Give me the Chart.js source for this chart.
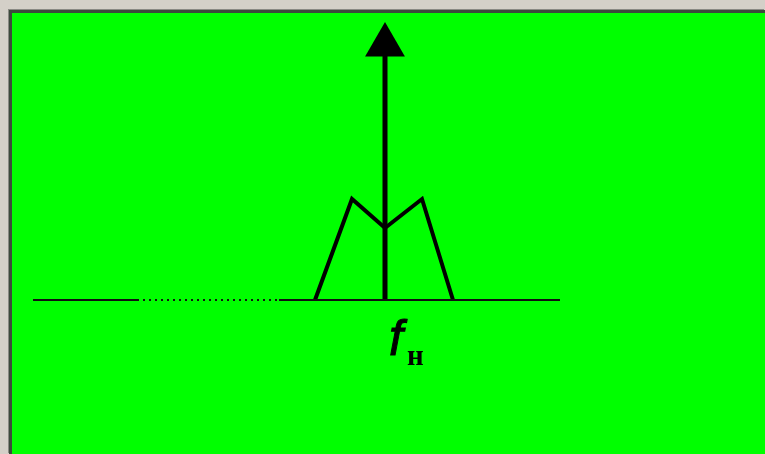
<!DOCTYPE html>
<html>
<head>
<meta charset="utf-8">
<script src="https://cdn.jsdelivr.net/npm/chart.js@4"></script>
<style>
  html, body { margin: 0; padding: 0; width: 765px; height: 454px; overflow: hidden; background: #d4d0c8; }
  #panel {
    position: absolute; left: 9px; top: 10px; right: 0; bottom: 0;
    background: #00ff00;
    border-left: 3px solid #3c4a3c; border-top: 3px solid #3c4a3c;
    box-shadow: -1px -1px 0 #8a8a84;
  }
  #spectrum { position: absolute; left: 0; top: 0; }
</style>
</head>
<body>
<div id="panel"></div>
<canvas id="spectrum" width="765" height="454"></canvas>
<script>
// frequency axis pieces (relative to carrier fн = 0)
const axisSolidLeft = [-352, -248];
const axisDotted = [-248, -108];
const axisSolidRight = [-106, 175];
// sidebands around the carrier
const sidebandX = [-70, -33, 0, 37, 68];
const sidebandY = [0, 101, 72, 101, 0];
// carrier line and arrow head
const carrierX = [0, 0];
const carrierY = [0, 250];
const arrowHead = [{ x: 0, y: 255 }];
// label
const labelMain = 'f';
const labelSub = 'н';

const toPoints = (xs, ys) => xs.map((x, i) => ({ x: x, y: ys[i] }));

const labelPlugin = {
    id: 'carrierLabel',
    afterDraw(chart) {
        const ctx = chart.ctx;
        const x = chart.scales.x.getPixelForValue(carrierX[0]);
        const y = chart.scales.y.getPixelForValue(0);
        ctx.save();
        ctx.fillStyle = '#000';
        ctx.strokeStyle = '#000';
        ctx.textBaseline = 'alphabetic';
        ctx.font = 'italic 50px "Liberation Sans", Arial, sans-serif';
        ctx.lineWidth = 1;
        ctx.fillText(labelMain, x + 4, y + 55);
        ctx.strokeText(labelMain, x + 4, y + 55);
        ctx.font = 'bold 29px "Liberation Serif", "Times New Roman", serif';
        ctx.fillText(labelSub, x + 22, y + 65);
        ctx.restore();
    }
};

var ctx = document.getElementById('spectrum').getContext('2d');
new Chart(ctx, {
    type: 'scatter',
    data: {
        datasets: [
            { data: toPoints(axisSolidLeft, [0, 0]), showLine: true, borderColor: '#101010', borderWidth: 2, pointRadius: 0 },
            { data: toPoints(axisDotted, [0, 0]), showLine: true, borderColor: '#101010', borderWidth: 2, borderDash: [2, 4], pointRadius: 0 },
            { data: toPoints(axisSolidRight, [0, 0]), showLine: true, borderColor: '#101010', borderWidth: 2, pointRadius: 0 },
            { data: toPoints(sidebandX, sidebandY), showLine: true, borderColor: '#000', borderWidth: 4, borderJoinStyle: 'miter', pointRadius: 0 },
            { data: toPoints(carrierX, carrierY), showLine: true, borderColor: '#000', borderWidth: 5, pointRadius: 0 },
            { data: arrowHead, pointStyle: 'triangle', pointRadius: 23, backgroundColor: '#000', borderColor: '#000', borderWidth: 0 }
        ]
    },
    options: {
        responsive: false,
        animation: false,
        layout: { padding: 0, autoPadding: false },
        plugins: { legend: { display: false }, tooltip: { enabled: false } },
        scales: {
            x: { type: 'linear', min: -385, max: 380, display: false },
            y: { type: 'linear', min: -154, max: 300, display: false }
        }
    },
    plugins: [labelPlugin]
});
</script>
</body>
</html>
